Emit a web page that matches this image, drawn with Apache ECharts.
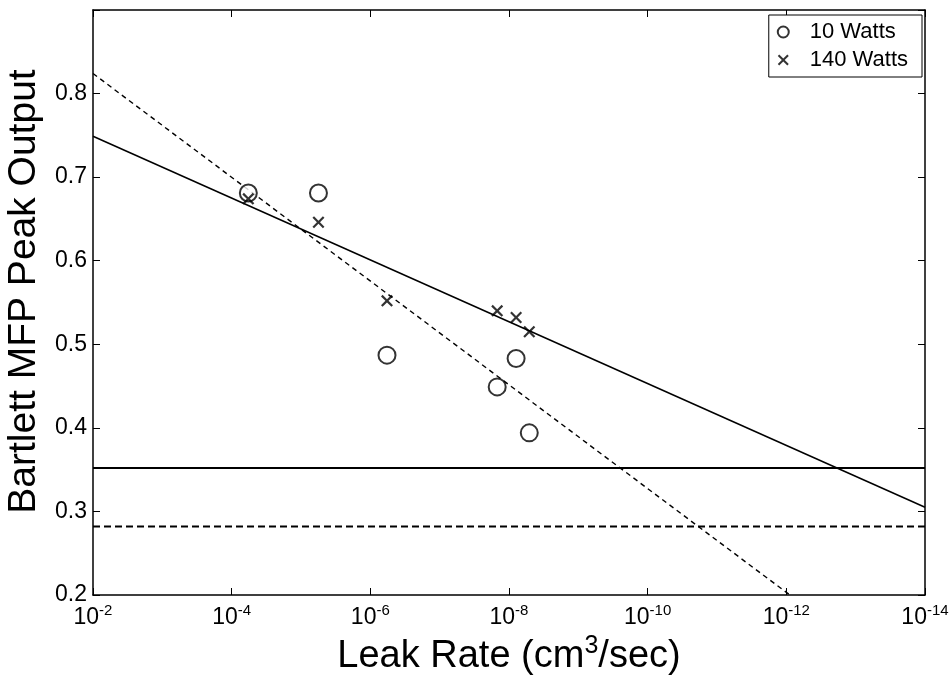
<!DOCTYPE html>
<html>
<head>
<meta charset="utf-8">
<script src="https://cdn.jsdelivr.net/npm/echarts@6/dist/echarts.min.js"></script>
<style>
html,body{margin:0;padding:0;background:#fff;}
#chart{width:952px;height:677px;}
</style>
</head>
<body>
<div id="chart"></div>
<script>
// ---- data ----
const leakRate = [5.75e-5, 5.6e-6, 5.75e-7, 1.48e-8, 7.9e-9, 5.1e-9];      // cm^3/sec
const peak10W  = [0.681, 0.681, 0.487, 0.449, 0.483, 0.394];
const peak140W = [0.674, 0.646, 0.552, 0.540, 0.532, 0.515];

const fitX      = [1e-2, 1e-14];
const fit10W    = [0.824, 0.079];   // dashed regression (10 W)
const fit140W   = [0.749, 0.305];   // solid regression (140 W)
const threshold10W  = 0.282;        // dashed horizontal
const threshold140W = 0.352;        // solid horizontal

const yTicks = [0.2, 0.3, 0.4, 0.5, 0.6, 0.7, 0.8];

const seriesNames = ['10 Watts', '140 Watts'];
const xTitle = 'Leak Rate (cm{sup|3}/sec)';
const yTitle = 'Bartlett MFP Peak Output';

// ---- chart ----
const FONT = 'Liberation Sans, Arial, Helvetica, sans-serif';
const crossPath = 'path://M0,1.3 L1.3,0 L5,3.7 L8.7,0 L10,1.3 L6.3,5 L10,8.7 L8.7,10 L5,6.3 L1.3,10 L0,8.7 L3.7,5 Z';

const pairs = (xs, ys) => xs.map((x, i) => [x, ys[i]]);

const chart = echarts.init(document.getElementById('chart'), null, {renderer: 'canvas'});

const xCommon = {
  type: 'log', logBase: 10, min: 1e-14, max: 1e-2, interval: 2, inverse: true,
  splitLine: {show: false},
  axisLine: {show: true, onZero: false, lineStyle: {color: '#000', width: 1.5}},
  axisTick: {show: true, inside: true, length: 7, lineStyle: {color: '#000', width: 1}}
};
const yCommon = {
  type: 'value', min: 0.2, max: 0.9, interval: 0.1,
  splitLine: {show: false},
  axisLine: {show: true, onZero: false, lineStyle: {color: '#000', width: 1.5}},
  axisTick: {show: true, inside: true, length: 7, lineStyle: {color: '#000', width: 1}}
};

const option = {
  backgroundColor: '#fff',
  animation: false,
  textStyle: {fontFamily: FONT, color: '#000'},
  grid: {left: 93, right: 27, top: 10, bottom: 82, containLabel: false, outerBoundsMode: 'none'},
  legend: {
    orient: 'vertical', right: 30, top: 15,
    data: [
      {name: seriesNames[0], icon: 'emptyCircle'},
      {name: seriesNames[1], icon: crossPath}
    ],
    borderColor: '#000', borderWidth: 1, backgroundColor: '#fff',
    padding: [6, 14, 6, 8], itemGap: 6, itemWidth: 11, itemHeight: 11,
    textStyle: {fontSize: 22, fontFamily: FONT, color: '#000', padding: [0, 0, 0, 16]}
  },
  xAxis: [
    Object.assign({}, xCommon, {
      position: 'bottom',
      axisLabel: {
        margin: 8, color: '#000',
        formatter: v => '{b|10}{s|' + Math.round(Math.log10(v)) + '}',
        rich: {
          b: {fontSize: 23, fontFamily: FONT, color: '#000'},
          s: {fontSize: 15, fontFamily: FONT, color: '#000', padding: [0, 0, 14, 0]}
        }
      },
      name: xTitle, nameLocation: 'middle', nameGap: 36,
      nameTextStyle: {
        fontSize: 38, fontFamily: FONT, color: '#000',
        rich: {sup: {fontSize: 25, fontFamily: FONT, color: '#000', padding: [0, 0, 20, 0]}}
      }
    }),
    Object.assign({}, xCommon, {position: 'top', axisLabel: {show: false}})
  ],
  yAxis: [
    Object.assign({}, yCommon, {
      position: 'left',
      axisLabel: {
        margin: 6, fontSize: 23, fontFamily: FONT, color: '#000',
        formatter: v => (yTicks.some(t => Math.abs(t - v) < 1e-6) ? v.toFixed(1) : '')
      },
      name: yTitle, nameLocation: 'middle', nameGap: 48,
      nameTextStyle: {fontSize: 39, fontFamily: FONT, color: '#000', padding: [0, 0, 0, 22]}
    }),
    Object.assign({}, yCommon, {position: 'right', axisLabel: {show: false}})
  ],
  series: [
    {
      name: seriesNames[0], type: 'scatter', symbol: 'emptyCircle', symbolSize: 17,
      itemStyle: {color: '#000', borderColor: '#000', borderWidth: 1.8},
      data: pairs(leakRate, peak10W), z: 5
    },
    {
      name: seriesNames[1], type: 'scatter', symbol: crossPath, symbolSize: 12,
      itemStyle: {color: '#000'},
      data: pairs(leakRate, peak140W), z: 5
    },
    {
      name: 'fit10', type: 'line', showSymbol: false, symbol: 'none', clip: true,
      lineStyle: {color: '#000', width: 1.4, type: [5, 4]},
      data: pairs(fitX, fit10W)
    },
    {
      name: 'fit140', type: 'line', showSymbol: false, symbol: 'none', clip: true,
      lineStyle: {color: '#000', width: 1.5},
      data: pairs(fitX, fit140W)
    },
    {
      name: 'thr140', type: 'line', showSymbol: false, symbol: 'none',
      lineStyle: {color: '#000', width: 2},
      data: pairs(fitX, [threshold140W, threshold140W])
    },
    {
      name: 'thr10', type: 'line', showSymbol: false, symbol: 'none',
      lineStyle: {color: '#000', width: 2, type: [7, 4]},
      data: pairs(fitX, [threshold10W, threshold10W])
    }
  ]
};
chart.setOption(option);
</script>
</body>
</html>
